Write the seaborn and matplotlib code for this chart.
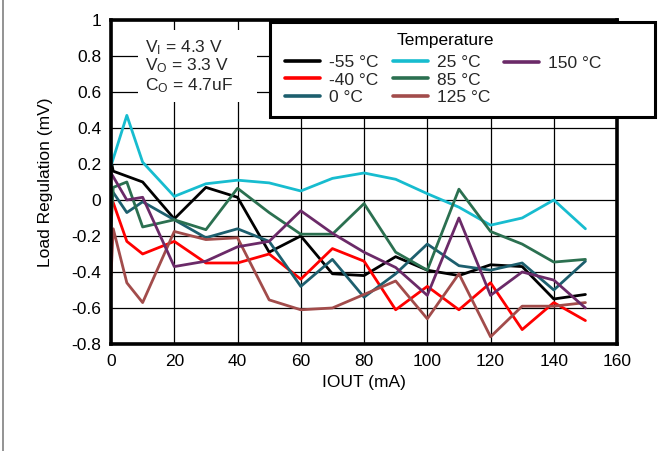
import numpy as np
import pandas as pd
import matplotlib
matplotlib.use("Agg")
import matplotlib.pyplot as plt
import seaborn as sns
from matplotlib.lines import Line2D
from matplotlib.patches import Rectangle

# ---------------- data ----------------
iout = [0, 0.7, 5, 10, 20, 30, 40, 50, 60, 70, 80, 90, 100, 110, 120, 130, 140, 150]

t_m55 = [0.22, 0.16, None, 0.10, -0.105, 0.07, 0.015, -0.29, -0.20, -0.41, -0.42, -0.315, -0.39, -0.42, -0.36, -0.37, -0.55, -0.525]
t_m40 = [0.02, None, -0.23, -0.30, -0.23, -0.35, -0.35, -0.30, -0.44, -0.27, -0.34, -0.61, -0.48, -0.61, -0.46, -0.72, -0.57, -0.67]
t_0 = [0.06, None, -0.07, -0.01, -0.11, -0.21, -0.16, -0.23, -0.48, -0.33, -0.54, -0.41, -0.245, -0.365, -0.39, -0.35, -0.50, -0.34]
t_25 = [0.19, None, 0.47, 0.21, 0.02, 0.09, 0.11, 0.095, 0.05, 0.12, 0.15, 0.115, 0.035, -0.04, -0.14, -0.10, 0.0, -0.16]
t_85 = [-0.15, 0.07, 0.10, -0.15, -0.11, -0.165, 0.065, -0.07, -0.19, -0.19, -0.02, -0.29, -0.39, 0.06, -0.175, -0.245, -0.345, -0.33]
t_125 = [-0.42, -0.16, -0.46, -0.57, -0.175, -0.22, -0.21, -0.555, -0.61, -0.60, -0.525, -0.45, -0.66, -0.41, -0.76, -0.59, -0.59, -0.57]
t_150 = [0.15, None, 0.0, 0.015, -0.37, -0.34, -0.26, -0.23, -0.06, -0.185, -0.29, -0.375, -0.53, -0.10, -0.53, -0.40, -0.445, -0.60]

labels = ["-55 °C", "-40 °C", "0 °C", "25 °C", "85 °C", "125 °C", "150 °C"]
series = [t_m55, t_m40, t_0, t_25, t_85, t_125, t_150]
colors = ["#000000", "#ff0000", "#1d5f6e", "#17bccf", "#2b7050", "#a24c4b", "#6b2a68"]

xticks = [0, 20, 40, 60, 80, 100, 120, 140, 160]
yticks = [-0.8, -0.6, -0.4, -0.2, 0, 0.2, 0.4, 0.6, 0.8, 1]
ytick_labels = ["-0.8", "-0.6", "-0.4", "-0.2", "0", "0.2", "0.4", "0.6", "0.8", "1"]

rows = []
for lab, vals in zip(labels, series):
    for x, v in zip(iout, vals):
        if v is not None:
            rows.append({"IOUT": x, "value": v, "Temperature": lab})
df = pd.DataFrame(rows)

# ---------------- style ----------------
sns.set_theme(style="white")
plt.rcParams["font.family"] = ["Liberation Sans", "DejaVu Sans"]
plt.rcParams["mathtext.fontset"] = "custom"
plt.rcParams["mathtext.rm"] = "Liberation Sans"
plt.rcParams["mathtext.it"] = "Liberation Sans"
FS = 12.5
W, H = 662.0, 451.0

fig = plt.figure(figsize=(6.62, 4.51), dpi=100)
ax = fig.add_axes([0.1677, 0.2373, 0.7644, 0.7184])

sns.lineplot(data=df, x="IOUT", y="value", hue="Temperature", hue_order=labels,
             palette=colors, estimator=None, linewidth=2.0, ax=ax, legend=False)

ax.set_xlim(0, 160)
ax.set_ylim(-0.8, 1.0)
ax.set_xticks(xticks)
ax.set_xticklabels([str(t) for t in xticks])
ax.set_yticks(yticks)
ax.set_yticklabels(ytick_labels)
ax.set_axisbelow(True)
ax.grid(True, color="black", linewidth=0.9)
for s in ax.spines.values():
    s.set_color("black")
    s.set_linewidth(2.6)
ax.tick_params(length=0, labelsize=FS, colors="black", pad=7)

ax.set_xlabel("IOUT (mA)", fontsize=FS, color="black")
ax.set_ylabel("Load Regulation (mV)", fontsize=FS, color="black")
ax.xaxis.set_label_coords(0.5, -0.095)
ax.yaxis.set_label_coords(-0.114, 0.5)

# annotation box
ax.add_patch(Rectangle((8.5, 0.544), 37.7, 0.40, facecolor="white",
                       edgecolor="none", zorder=1.5))
ax.text(10.7, 0.822, r"V$_{\mathrm{I}}$ = 4.3 V", fontsize=FS, va="baseline", zorder=3)
ax.text(10.7, 0.722, r"V$_{\mathrm{O}}$ = 3.3 V", fontsize=FS, va="baseline", zorder=3)
ax.text(10.7, 0.608, r"C$_{\mathrm{O}}$ = 4.7uF", fontsize=FS, va="baseline", zorder=3)

# legend frame
frame = Rectangle((270 / W, 1 - 117 / H), (655 - 270) / W, (117 - 22) / H,
                  transform=fig.transFigure, facecolor="white", edgecolor="black",
                  linewidth=2.2, zorder=4, clip_on=False)
ax.add_artist(frame)

# legend: one legend per column so column positions match the reference
handles = [Line2D([], [], color=c, linewidth=2.6) for c in colors]
columns = [([0, 1, 2], 285, 80), ([3, 4, 5], 393, 80), ([6], 504, 63)]
legs = []
for idx, x0, yc in columns:
    lg = ax.legend([handles[i] for i in idx], [labels[i] for i in idx],
                   fontsize=FS, loc="center left",
                   bbox_to_anchor=(x0 / W, 1 - yc / H),
                   bbox_transform=fig.transFigure, frameon=False,
                   handlelength=2.0, handletextpad=0.55, labelspacing=0.12,
                   borderpad=0.0, borderaxespad=0)
    lg.set_zorder(5)
    legs.append(lg)
for lg in legs[:-1]:
    ax.add_artist(lg)
fig.text(445 / W, 1 - 40 / H, "Temperature", fontsize=FS, ha="center",
         va="center", color="black")

# thin border at left of the figure
fig.add_artist(Line2D([0.005, 0.005], [0, 1], transform=fig.transFigure,
                      color="#808080", linewidth=1.2))

fig.savefig("out.png", dpi=100)
